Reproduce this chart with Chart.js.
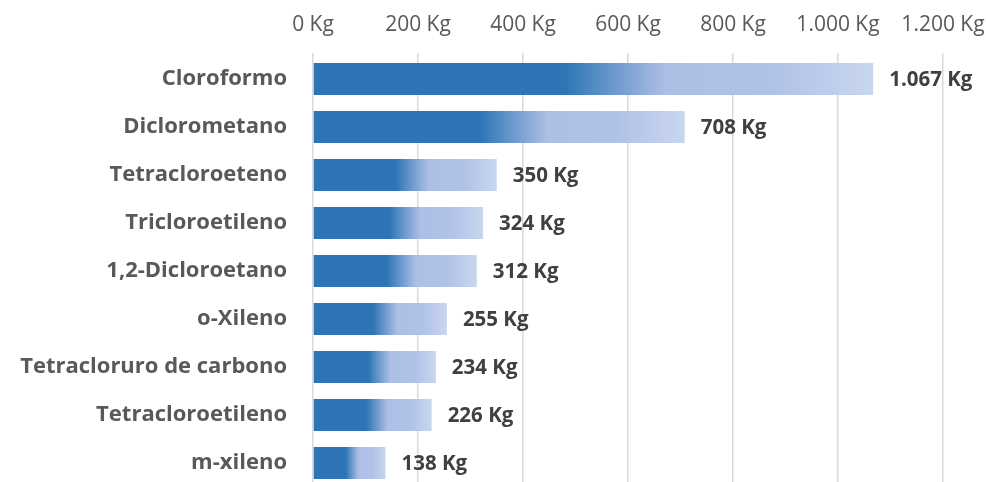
<!DOCTYPE html>
<html>
<head>
<meta charset="utf-8">
<script src="https://cdn.jsdelivr.net/npm/chart.js@4.4.1/dist/chart.umd.min.js"></script>
<style>
  html, body { margin: 0; padding: 0; background: #fff; overflow: hidden; }
  canvas { display: block; }
</style>
</head>
<body>
<canvas id="myChart" width="986" height="487"></canvas>
<script>
const compuestos = ["Cloroformo", "Diclorometano", "Tetracloroeteno", "Tricloroetileno", "1,2-Dicloroetano", "o-Xileno", "Tetracloruro de carbono", "Tetracloroetileno", "m-xileno"];
const kilos = [1067, 708, 350, 324, 312, 255, 234, 226, 138];
const ejeMax = 1200;
const ejePaso = 200;

const fuente = "'Open Sans', sans-serif";

function formatoKg(v) {
  return String(v).replace(/\B(?=(\d{3})+(?!\d))/g, ".") + " Kg";
}

// degradado de cada barra, desde el 0 hasta el final de la barra
function degradado(context) {
  const chart = context.chart;
  const x = chart.scales.x;
  if (!x || context.dataIndex === undefined) return "#2E75B6";
  const x0 = x.getPixelForValue(0);
  const x1 = x.getPixelForValue(kilos[context.dataIndex]);
  if (!isFinite(x0) || !isFinite(x1) || x1 <= x0) return "#2E75B6";
  const g = chart.ctx.createLinearGradient(x0, 0, x1, 0);
  g.addColorStop(0, "#2E75B6");
  g.addColorStop(0.45, "#2E75B6");
  g.addColorStop(0.63, "#ADBFE5");
  g.addColorStop(0.82, "#B0C2E6");
  g.addColorStop(1, "#C9D6EF");
  return g;
}

const etiquetas = {
  id: "etiquetas",
  afterDatasetsDraw(chart) {
    const ctx = chart.ctx;
    const meta = chart.getDatasetMeta(0);
    ctx.save();
    ctx.font = "bold 20.5px " + fuente;
    ctx.fillStyle = "#404040";
    ctx.textAlign = "left";
    ctx.textBaseline = "middle";
    meta.data.forEach((bar, i) => {
      ctx.fillText(formatoKg(kilos[i]), bar.x + 16, bar.y + 1);
    });
    ctx.restore();
  }
};

const data = {
  labels: compuestos,
  datasets: [
    {
      data: kilos,
      backgroundColor: degradado,
      borderWidth: 0,
      categoryPercentage: 1,
      barPercentage: 0.67
    }
  ]
};

const config = {
  type: "bar",
  data: data,
  plugins: [etiquetas],
  options: {
    indexAxis: "y",
    responsive: false,
    animation: false,
    layout: { padding: { left: 0, right: 43, top: 0, bottom: 0 } },
    plugins: {
      legend: { display: false },
      tooltip: { enabled: false }
    },
    scales: {
      x: {
        position: "top",
        min: 0,
        max: ejeMax,
        ticks: {
          stepSize: ejePaso,
          padding: 15,
          color: "#595959",
          font: { family: fuente, size: 21 },
          callback: (v) => formatoKg(v)
        },
        grid: { color: "#D9D9D9", lineWidth: 1.5, tickLength: 2 },
        border: { display: false },
        afterFit: (scale) => {
          scale.height = 55;
          scale.paddingLeft = 0;
          scale.paddingRight = 0;
        }
      },
      y: {
        ticks: {
          padding: 26,
          color: "#595959",
          font: { family: fuente, size: 22, weight: "bold" }
        },
        grid: { display: false, drawTicks: false },
        border: { display: false },
        afterFit: (scale) => {
          scale.width = 313;
          scale.paddingTop = 0;
          scale.paddingBottom = 0;
        }
      }
    }
  }
};

new Chart(document.getElementById("myChart"), config);
</script>
</body>
</html>
